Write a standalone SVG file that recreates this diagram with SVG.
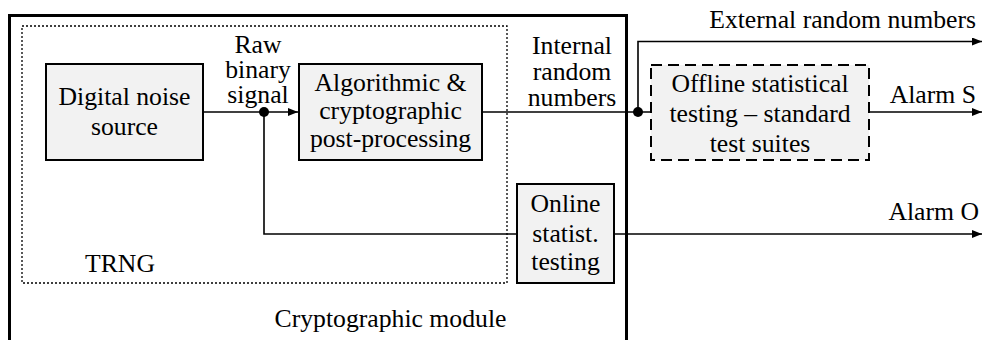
<svg xmlns="http://www.w3.org/2000/svg" width="983" height="340" viewBox="0 0 983 340">
  <defs>
    <marker id="arrow" viewBox="0 0 10 8" refX="10" refY="4" markerWidth="10" markerHeight="8" markerUnits="userSpaceOnUse" orient="auto">
      <path d="M0,0 L10,4 L0,8 Z" fill="#000"/>
    </marker>
    <style>
      .c { text-anchor: middle; }
      .e { text-anchor: end; }
      .box { fill: #f2f2f2; stroke: #000; stroke-width: 2; }
      .dash { fill: #f2f2f2; stroke: #000; stroke-width: 2; stroke-dasharray: 11 6; }
      .wire { fill: none; stroke: #000; stroke-width: 1.6; }
      .dot { fill: #000; }
    </style>
  </defs>

  <g font-family="'Liberation Serif', Tinos, 'Times New Roman', 'DejaVu Serif', serif" font-size="25.7" fill="#000">
  <!-- Cryptographic module boundary (open at the bottom) -->
  <g id="module">
    <path d="M9.5,340 V15.5 H626.5 V340" fill="none" stroke="#000" stroke-width="3"/>
    <text class="c" x="390.5" y="327">Cryptographic module</text>
  </g>

  <!-- TRNG boundary -->
  <g id="trng">
    <rect x="22" y="26" width="485" height="257" fill="none" stroke="#000" stroke-width="1.3" stroke-dasharray="2 2"/>
    <text x="85" y="272">TRNG</text>
  </g>

  <g id="connectors">
    <path class="wire" d="M203,112 H298" marker-end="url(#arrow)"/>
    <path class="wire" d="M264,112 V234 H517"/>
    <path class="wire" d="M614,234 H982" marker-end="url(#arrow)"/>
    <path class="wire" d="M482,112 H651"/>
    <path class="wire" d="M638,112 V41.5 H982" marker-end="url(#arrow)"/>
    <path class="wire" d="M869,112 H982" marker-end="url(#arrow)"/>
    <circle class="dot" cx="264" cy="112" r="5"/>
    <circle class="dot" cx="638" cy="112" r="5"/>
    <text class="c" x="258" y="53">Raw</text>
    <text class="c" x="258" y="78">binary</text>
    <text class="c" x="258" y="103">signal</text>
    <text class="c" x="572" y="54">Internal</text>
    <text class="c" x="572" y="80">random</text>
    <text class="c" x="572" y="106">numbers</text>
    <text class="e" x="976" y="28">External random numbers</text>
    <text class="e" x="976" y="103">Alarm S</text>
    <text class="e" x="979" y="220">Alarm O</text>
  </g>

  <g id="noise-source">
    <rect class="box" x="46" y="64" width="157" height="96"/>
    <text class="c" x="124.5" y="105">Digital noise</text>
    <text class="c" x="124.5" y="135">source</text>
  </g>

  <g id="post-processing">
    <rect class="box" x="299" y="64" width="183" height="96"/>
    <text class="c" x="390.5" y="91">Algorithmic &amp;</text>
    <text class="c" x="390.5" y="119">cryptographic</text>
    <text class="c" x="390.5" y="147">post-processing</text>
  </g>

  <g id="online-testing">
    <rect class="box" x="517" y="184" width="97" height="99"/>
    <text class="c" x="565.5" y="212">Online</text>
    <text class="c" x="565.5" y="242">statist.</text>
    <text class="c" x="565.5" y="270">testing</text>
  </g>

  <g id="offline-testing">
    <rect class="dash" x="651" y="65" width="218" height="95"/>
    <text class="c" x="760" y="92">Offline statistical</text>
    <text class="c" x="760" y="122">testing –  standard</text>
    <text class="c" x="760" y="152">test suites</text>
  </g>
  </g>
</svg>
